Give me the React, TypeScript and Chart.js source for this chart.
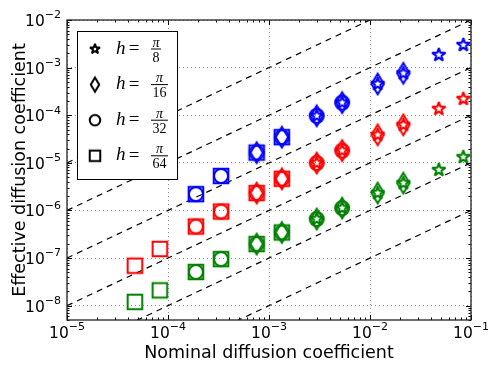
import { useEffect, useRef } from 'react';
import { Chart, registerables } from 'chart.js';

Chart.register(...registerables);

// ---- data ----
// nominal diffusion coefficients of the runs (x)
const nominalCoeff = [4.7e-5, 8.3e-5, 1.89e-4, 3.35e-4, 7.55e-4, 1.34e-3, 2.97e-3, 5.3e-3, 1.19e-2, 2.14e-2, 4.8e-2, 8.4e-2];
// effective diffusion coefficients (y), one list per colour
const effectiveBlue = [null, null, 2.2e-6, 5.3e-6, 1.64e-5, 3.46e-5, 9.7e-5, 1.84e-4, 4.54e-4, 7.6e-4, 1.85e-3, 2.99e-3];
const effectiveRed = [6.9e-8, 1.55e-7, 4.6e-7, 9.5e-7, 2.32e-6, 4.62e-6, 9.9e-6, 1.81e-5, 3.87e-5, 6.27e-5, 1.36e-4, 2.2e-4];
const effectiveGreen = [1.2e-8, 2.1e-8, 5.1e-8, 9.5e-8, 1.97e-7, 3.45e-7, 6.6e-7, 1.12e-6, 2.32e-6, 3.75e-6, 7.1e-6, 1.32e-5];
const seriesColors = ['#0000ff', '#ff0000', '#008000'];
// grid spacings h = pi / denominator and the runs each one covers
const hDenominators = ['8', '16', '32', '64'];
const hMarkers = ['star', 'thinDiamond', 'circle', 'square'];
const hRunStart = [6, 4, 2, 0];
const hRunEnd = [11, 9, 7, 5];
// dashed reference lines  D_eff = 10^k * D_nominal
const referenceExponents = [0, -1, -2, -3, -4, -5];
// axes
const xRange = [1e-5, 1e-1];
const yRange = [5e-9, 1e-2];
const xTickValues = [1e-5, 1e-4, 1e-3, 1e-2, 1e-1];
const xTickExponents = ['\u22125', '\u22124', '\u22123', '\u22122', '\u22121'];
const yTickValues = [1e-8, 1e-7, 1e-6, 1e-5, 1e-4, 1e-3, 1e-2];
const yTickExponents = ['\u22128', '\u22127', '\u22126', '\u22125', '\u22124', '\u22123', '\u22122'];
const xAxisTitle = 'Nominal diffusion coefficient';
const yAxisTitle = 'Effective diffusion coefficient';

type Shape = 'star' | 'thinDiamond' | 'circle' | 'square';

function tracePath(ctx: CanvasRenderingContext2D, shape: Shape, cx: number, cy: number, s: number) {
  ctx.beginPath();
  if (shape === 'square') {
    ctx.rect(cx - s / 2, cy - s / 2, s, s);
  } else if (shape === 'circle') {
    ctx.arc(cx, cy, s / 2, 0, Math.PI * 2);
  } else if (shape === 'thinDiamond') {
    const hh = s * Math.SQRT1_2;
    const hw = hh * 0.6;
    ctx.moveTo(cx, cy - hh);
    ctx.lineTo(cx + hw, cy);
    ctx.lineTo(cx, cy + hh);
    ctx.lineTo(cx - hw, cy);
    ctx.closePath();
  } else {
    const R = s / 2;
    const r = R * 0.381966;
    for (let i = 0; i < 10; i++) {
      const a = -Math.PI / 2 + (i * Math.PI) / 5;
      const rr = i % 2 === 0 ? R : r;
      const px = cx + rr * Math.cos(a);
      const py = cy + rr * Math.sin(a);
      if (i === 0) ctx.moveTo(px, py);
      else ctx.lineTo(px, py);
    }
    ctx.closePath();
  }
}

function makeMarker(shape: Shape, color: string, s: number, lw: number): HTMLCanvasElement {
  const c = document.createElement('canvas');
  const S = 2 * Math.ceil(s + lw + 4);
  c.width = S;
  c.height = S;
  const ctx = c.getContext('2d')!;
  ctx.strokeStyle = color;
  ctx.lineWidth = lw;
  ctx.lineJoin = shape === 'star' ? 'bevel' : 'miter';
  ctx.miterLimit = 10;
  tracePath(ctx, shape, S / 2, S / 2, s);
  ctx.stroke();
  return c;
}

const plotMarkerSize: Record<Shape, number> = { star: 14.0, thinDiamond: 14.6, circle: 14.0, square: 14.6 };
const legendMarkerSize: Record<Shape, number> = { star: 10.5, thinDiamond: 10.0, circle: 10.5, square: 10.5 };

function drawPower(ctx: CanvasRenderingContext2D, exp: string, x: number, baseY: number, align: 'center' | 'right') {
  ctx.font = '15.5px "DejaVu Sans"';
  const w10 = ctx.measureText('10').width;
  ctx.font = '11px "DejaVu Sans"';
  const wExp = ctx.measureText(exp).width;
  const total = w10 + wExp;
  const x0 = align === 'center' ? x - total / 2 : x - total;
  ctx.textAlign = 'left';
  ctx.textBaseline = 'alphabetic';
  ctx.font = '15.5px "DejaVu Sans"';
  ctx.fillText('10', x0, baseY);
  ctx.font = '11px "DejaVu Sans"';
  ctx.fillText(exp, x0 + w10, baseY - 7.6);
}

const decorPlugin = {
  id: 'decor',
  afterDraw(chart: any) {
    const ctx: CanvasRenderingContext2D = chart.ctx;
    const { left, right, top, bottom } = chart.chartArea;
    const xs = chart.scales.x;
    const ys = chart.scales.y;
    ctx.save();

    // tick marks, inward on all four sides
    ctx.strokeStyle = '#000';
    ctx.lineWidth = 1;
    ctx.beginPath();
    for (let n = -5; n <= -1; n++) {
      for (let m = 1; m <= 9; m++) {
        const v = m * Math.pow(10, n);
        if (v < xRange[0] * 0.999 || v > xRange[1] * 1.001) continue;
        const px = Math.round(xs.getPixelForValue(v)) + 0.5;
        const len = m === 1 ? 5 : 2.5;
        ctx.moveTo(px, bottom);
        ctx.lineTo(px, bottom - len);
        ctx.moveTo(px, top);
        ctx.lineTo(px, top + len);
      }
    }
    for (let n = -9; n <= -2; n++) {
      for (let m = 1; m <= 9; m++) {
        const v = m * Math.pow(10, n);
        if (v < yRange[0] * 0.999 || v > yRange[1] * 1.001) continue;
        const py = Math.round(ys.getPixelForValue(v)) + 0.5;
        const len = m === 1 ? 5 : 2.5;
        ctx.moveTo(left, py);
        ctx.lineTo(left + len, py);
        ctx.moveTo(right, py);
        ctx.lineTo(right - len, py);
      }
    }
    ctx.stroke();

    // frame
    ctx.strokeStyle = '#222';
    ctx.lineWidth = 1.3;
    ctx.strokeRect(left, top, right - left, bottom - top);

    // tick labels
    ctx.fillStyle = '#000';
    xTickValues.forEach((v, i) => {
      drawPower(ctx, xTickExponents[i], xs.getPixelForValue(v), bottom + 18, 'center');
    });
    yTickValues.forEach((v, i) => {
      drawPower(ctx, yTickExponents[i], left - 6, ys.getPixelForValue(v) + 6, 'right');
    });

    // axis titles
    ctx.font = '17.5px "DejaVu Sans"';
    ctx.textAlign = 'center';
    ctx.textBaseline = 'alphabetic';
    ctx.fillText(xAxisTitle, (left + right) / 2, 358);
    ctx.save();
    ctx.translate(25, (top + bottom) / 2);
    ctx.rotate(-Math.PI / 2);
    ctx.fillText(yAxisTitle, 0, 0);
    ctx.restore();

    // legend
    const bx = 77.5, by = 31.5, bw = 100, bh = 148;
    ctx.fillStyle = '#fff';
    ctx.fillRect(bx, by, bw, bh);
    ctx.strokeStyle = '#000';
    ctx.lineWidth = 1;
    ctx.strokeRect(bx, by, bw, bh);
    hDenominators.forEach((den, i) => {
      const cy = 49 + i * 35.6;
      const marker = makeMarker(hMarkers[i] as Shape, '#000', legendMarkerSize[hMarkers[i] as Shape], 2);
      ctx.drawImage(marker, 95 - marker.width / 2, cy - marker.height / 2);
      ctx.fillStyle = '#000';
      ctx.textBaseline = 'alphabetic';
      ctx.textAlign = 'left';
      ctx.font = 'italic 19px "Liberation Serif"';
      ctx.fillText('h', 116, cy + 4.5);
      ctx.font = '19px "Liberation Serif"';
      ctx.textAlign = 'center';
      ctx.fillText('=', 134, cy + 5);
      ctx.font = '14px "Liberation Serif"';
      const dw = ctx.measureText(den).width;
      const barW = dw + 3;
      const fx = 151;
      ctx.fillRect(fx, cy - 0.5, barW, 1);
      ctx.font = 'italic 14px "Liberation Serif"';
      ctx.fillText('\u03c0', fx + barW / 2, cy - 2.5);
      ctx.font = '14px "Liberation Serif"';
      ctx.fillText(den, fx + barW / 2, cy + 12.5);
    });

    ctx.restore();
  },
};

export default function App() {
  const canvasRef = useRef<HTMLCanvasElement | null>(null);

  useEffect(() => {
    const canvas = canvasRef.current;
    if (!canvas) return;

    const datasets: any[] = [];
    referenceExponents.forEach((k) => {
      datasets.push({
        type: 'line',
        data: [
          { x: xRange[0], y: Math.pow(10, k) * xRange[0] },
          { x: xRange[1], y: Math.pow(10, k) * xRange[1] },
        ],
        borderColor: '#000',
        borderWidth: 1.2,
        borderDash: [6, 5],
        pointRadius: 0,
        fill: false,
        order: 5,
      });
    });
    const effectiveSets = [effectiveBlue, effectiveRed, effectiveGreen];
    effectiveSets.forEach((eff, ci) => {
      hMarkers.forEach((shape, hi) => {
        const pts: { x: number; y: number }[] = [];
        for (let j = hRunStart[hi]; j <= hRunEnd[hi]; j++) {
          const y = eff[j];
          if (y != null) pts.push({ x: nominalCoeff[j], y });
        }
        datasets.push({
          type: 'scatter',
          data: pts,
          pointStyle: makeMarker(shape as Shape, seriesColors[ci], plotMarkerSize[shape as Shape], 2),
          pointRadius: 8,
          pointHoverRadius: 8,
          showLine: false,
          order: 1,
        });
      });
    });

    const chart = new Chart(canvas, {
      type: 'scatter',
      data: { datasets },
      options: {
        animation: false,
        responsive: true,
        maintainAspectRatio: false,
        layout: { padding: { left: 67, right: 27, top: 20, bottom: 54 } },
        plugins: { legend: { display: false }, tooltip: { enabled: false } },
        scales: {
          x: {
            type: 'logarithmic',
            min: xRange[0],
            max: xRange[1],
            afterBuildTicks: (axis: any) => {
              axis.ticks = xTickValues.map((v) => ({ value: v }));
            },
            ticks: { display: false },
            grid: { color: 'rgba(0,0,0,0.42)', lineWidth: 1, drawTicks: false },
            border: { display: false, dash: [1, 3] },
          },
          y: {
            type: 'logarithmic',
            min: yRange[0],
            max: yRange[1],
            afterBuildTicks: (axis: any) => {
              axis.ticks = yTickValues.map((v) => ({ value: v }));
            },
            ticks: { display: false },
            grid: { color: 'rgba(0,0,0,0.42)', lineWidth: 1, drawTicks: false },
            border: { display: false, dash: [1, 3] },
          },
        },
      } as any,
      plugins: [decorPlugin],
    });
    return () => chart.destroy();
  }, []);

  return (
    <div style={{ position: 'absolute', left: 0, top: 0, width: 498, height: 374, background: '#fff' }}>
      <canvas ref={canvasRef} />
    </div>
  );
}
